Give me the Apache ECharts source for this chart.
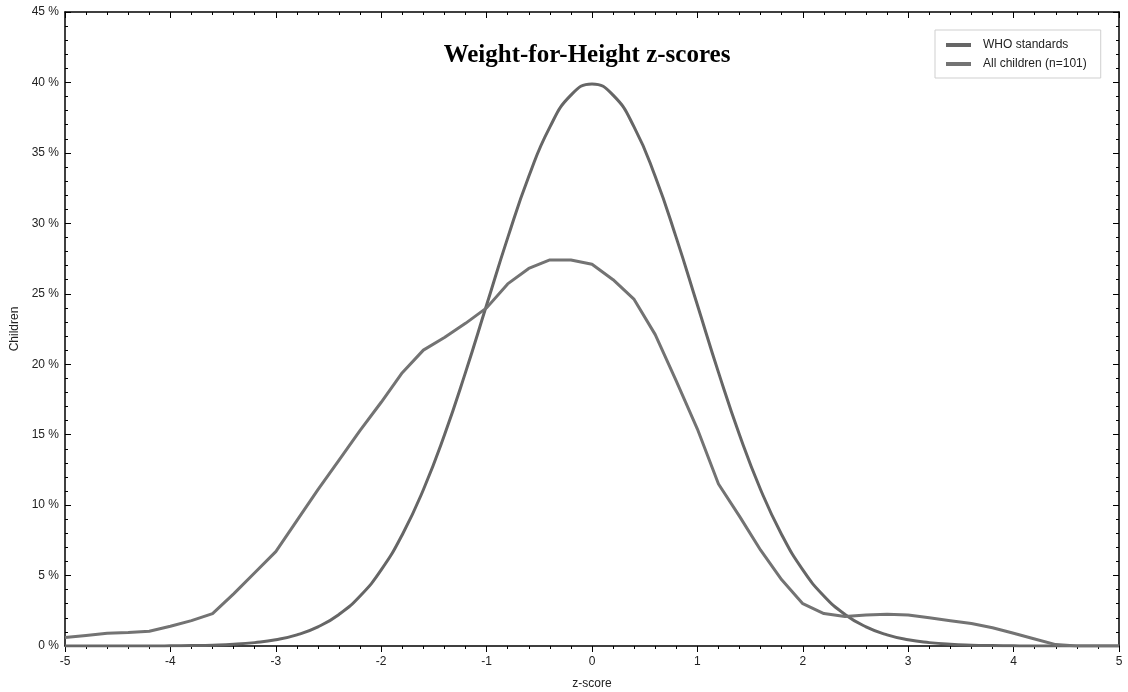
<!DOCTYPE html>
<html>
<head>
<meta charset="utf-8">
<script src="https://cdn.jsdelivr.net/npm/echarts@6/dist/echarts.min.js"></script>
<style>
  html, body { margin: 0; padding: 0; background: #fff; }
  #chart { width: 1128px; height: 692px; }
</style>
</head>
<body>
<div id="chart"></div>
<script>
// z-score points (step 0.2)
var zScores = [-5, -4.8, -4.6, -4.4, -4.2, -4, -3.8, -3.6, -3.4, -3.2,
  -3, -2.8, -2.6, -2.4, -2.2, -2, -1.8, -1.6, -1.4, -1.2,
  -1, -0.8, -0.6, -0.4, -0.2, 0, 0.2, 0.4, 0.6, 0.8,
  1, 1.2, 1.4, 1.6, 1.8, 2, 2.2, 2.4, 2.6, 2.8,
  3, 3.2, 3.4, 3.6, 3.8, 4, 4.2, 4.4, 4.6, 4.8, 5]

// WHO standards (%)
var whoStandards = [0, 0, 0, 0, 0, 0.01, 0.03, 0.06, 0.12, 0.24,
  0.44, 0.79, 1.36, 2.24, 3.55, 5.4, 7.9, 11.09, 14.97, 19.42,
  24.2, 28.97, 33.32, 36.83, 39.1, 39.89, 39.1, 36.83, 33.32, 28.97,
  24.2, 19.42, 14.97, 11.09, 7.9, 5.4, 3.55, 2.24, 1.36, 0.79,
  0.44, 0.24, 0.12, 0.06, 0.03, 0.01, 0, 0, 0, 0, 0]

// All children (n=101) (%)
var allChildren = [0.6, 0.75, 0.9, 0.95, 1.05, 1.4, 1.8, 2.3, 3.7, 5.2,
  6.7, 8.9, 11.1, 13.2, 15.3, 17.3, 19.4, 21.0, 21.9, 22.9,
  24.0, 25.7, 26.8, 27.4, 27.4, 27.1, 26.0, 24.6, 22.1, 18.8,
  15.4, 11.5, 9.2, 6.8, 4.7, 3.0, 2.3, 2.1, 2.2, 2.25,
  2.2, 2.0, 1.8, 1.6, 1.3, 0.9, 0.5, 0.1, 0, 0, 0]

var seriesNames = ['WHO standards', 'All children (n=101)']

function pairs(vals) {
  var out = []
  for (var i = 0; i < zScores.length; i++) {
    out.push([zScores[i], vals[i]])
  }
  return out
}

var chart = echarts.init(document.getElementById('chart'))
var labelFont = { fontFamily: 'Liberation Sans, Arial', fontSize: 12, color: '#222' }

var option = {
  animation: false,
  backgroundColor: '#fff',
  title: {
    text: 'Weight-for-Height z-scores',
    left: 582,
    top: 38,
    textAlign: 'center',
    textStyle: {
      fontFamily: 'Liberation Serif, Times New Roman',
      fontWeight: 'bold',
      fontSize: 25,
      color: '#000',
    },
  },
  legend: {
    orient: 'vertical',
    left: 935,
    top: 30,
    padding: [9, 14, 8, 11],
    itemGap: 7,
    itemWidth: 25,
    itemHeight: 4,
    icon: 'rect',
    borderColor: '#cfcfcf',
    borderWidth: 1,
    data: seriesNames,
    textStyle: { fontFamily: 'Liberation Sans, Arial', fontSize: 12, color: '#222', padding: [0, 0, 0, 7] },
  },
  grid: {
    left: 65,
    right: 9,
    top: 12,
    bottom: 46,
    containLabel: false,
    outerBoundsMode: 'none',
  },
  xAxis: [
    {
      type: 'value',
      min: -5,
      max: 5,
      interval: 1,
      name: 'z-score',
      nameLocation: 'middle',
      nameGap: 32,
      nameTextStyle: labelFont,
      axisLine: { onZero: false, lineStyle: { color: '#000', width: 1.5 } },
      axisTick: { inside: false, length: 6, lineStyle: { color: '#000' } },
      minorTick: { show: true, splitNumber: 5, length: 3, lineStyle: { color: '#000' } },
      axisLabel: Object.assign({ margin: 10 }, labelFont),
      splitLine: { show: false },
    },
    {
      type: 'value',
      position: 'top',
      min: -5,
      max: 5,
      interval: 1,
      axisLine: { onZero: false, lineStyle: { color: '#000', width: 1.5 } },
      axisTick: { inside: true, length: 6, lineStyle: { color: '#000' } },
      minorTick: { show: true, splitNumber: 5, length: 3, lineStyle: { color: '#000' } },
      axisLabel: { show: false },
      splitLine: { show: false },
    },
  ],
  yAxis: [
    {
      type: 'value',
      min: 0,
      max: 45,
      interval: 5,
      name: 'Children',
      nameLocation: 'middle',
      nameGap: 41,
      nameRotate: 90,
      nameTextStyle: labelFont,
      axisLine: { show: true, onZero: false, lineStyle: { color: '#000', width: 1.5 } },
      axisTick: { show: true, inside: true, length: 6, lineStyle: { color: '#000' } },
      minorTick: { show: true, splitNumber: 5, length: 3, lineStyle: { color: '#000' } },
      axisLabel: Object.assign({ margin: 6, formatter: '{value} %' }, labelFont),
      splitLine: { show: false },
    },
    {
      type: 'value',
      position: 'right',
      min: 0,
      max: 45,
      interval: 5,
      axisLine: { show: true, onZero: false, lineStyle: { color: '#000', width: 1.5 } },
      axisTick: { show: true, inside: true, length: 6, lineStyle: { color: '#000' } },
      minorTick: { show: true, splitNumber: 5, length: 3, lineStyle: { color: '#000' } },
      axisLabel: { show: false },
      splitLine: { show: false },
    },
  ],
  series: [
    {
      name: seriesNames[0],
      type: 'line',
      smooth: true,
      showSymbol: false,
      lineStyle: { width: 3, color: '#666666' },
      itemStyle: { color: '#666666' },
      data: pairs(whoStandards),
    },
    {
      name: seriesNames[1],
      type: 'line',
      smooth: false,
      showSymbol: false,
      lineStyle: { width: 3, color: '#737373' },
      itemStyle: { color: '#737373' },
      data: pairs(allChildren),
    },
  ],
}
chart.setOption(option)
</script>
</body>
</html>
